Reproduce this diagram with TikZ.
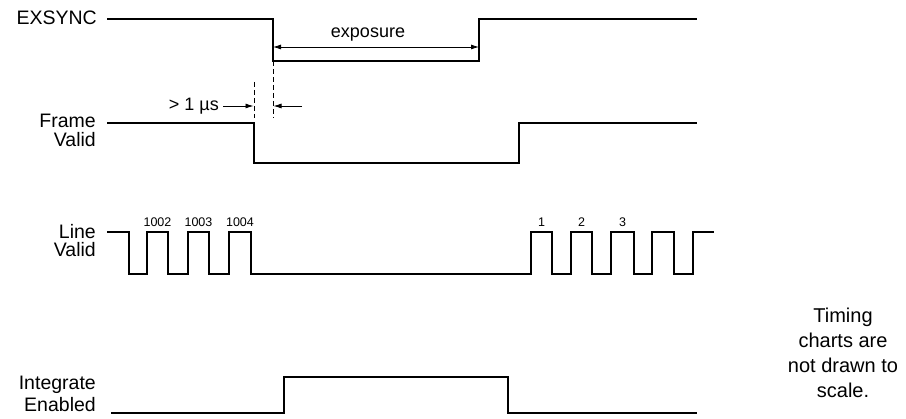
\documentclass[tikz,border=0pt]{standalone}
\usepackage{fontspec}
\setmainfont{Liberation Sans}
\usetikzlibrary{arrows.meta}
\begin{document}
\begin{tikzpicture}[x=1pt,y=-1pt,
  sig/.style={line width=2pt, line join=miter, line cap=butt},
  dimarrow/.style={line width=0.8pt, -{Latex[length=8pt,width=5pt]}},
  dimboth/.style={line width=0.8pt, {Latex[length=8pt,width=5pt]}-{Latex[length=8pt,width=5pt]}},
  guide/.style={line width=0.8pt, dash pattern=on 5pt off 3pt},
  lab/.style={font=\fontsize{19.5}{22}\selectfont, inner sep=0pt, anchor=base east},
  mid/.style={font=\fontsize{18}{20}\selectfont, inner sep=0pt},
  num/.style={font=\fontsize{12.5}{14}\selectfont, inner sep=0pt, anchor=base},
  note/.style={font=\fontsize{20}{24}\selectfont, inner sep=0pt, anchor=base}]
\useasboundingbox (0,0) rectangle (906,419);

% labels
\node[lab] (lexs) at (97,25) {EXSYNC};
\node[lab] (lfr1) at (96,128) {Frame};
\node[lab] (lfr2) at (96,147) {Valid};
\node[lab] (lln1) at (96,239) {Line};
\node[lab] (lln2) at (96,257) {Valid};
\node[lab] (lin1) at (96,390) {Integrate};
\node[lab] (lin2) at (96,411.5) {Enabled};

% EXSYNC
\coordinate (exA) at (273,61);
\draw[sig] (107,19) -| (exA) -| (479,19) -- (697,19);

% exposure
\coordinate (eL) at (273,47);
\coordinate (eR) at (479,47);
\draw[dimboth] (eL) -- (eR);
\node[mid, anchor=base] (lexp) at (368,38) {exposure};

% Frame Valid
\draw[sig] (107,123) -| (254,163) -| (519,123) -- (697,123);

% guides
\coordinate (g1t) at (254,82);
\coordinate (g1b) at (254,118);
\coordinate (g2b) at (273,118);
\draw[guide] (g1t) -- (g1b);
\draw[guide] (exA) -- (g2b);

% > 1 us
\node[mid, anchor=base east] (lus) at (219,110.5) {> 1 µs};
\coordinate (a1s) at (223,106);
\coordinate (a1e) at (253.5,106);
\coordinate (a2s) at (302,106);
\coordinate (a2e) at (273.5,106);
\draw[dimarrow] (a1s) -- (a1e);
\draw[dimarrow] (a2s) -- (a2e);

% Line Valid
\draw[sig] (107,232) -| (129,274) -| (147,232) -| (168,274) -| (188,232) -| (209,274) -| (229,232) -| (251,274)
  -| (531,232) -| (552,274) -| (571,232) -| (592,274) -| (611,232) -| (634,274) -| (652,232) -| (674,274) -| (693,232) -- (714,232);
\node[num] (n1002) at (157.5,227) {1002};
\node[num] (n1003) at (198.5,227) {1003};
\node[num] (n1004) at (240,227) {1004};
\node[num] (n1) at (541.5,227) {1};
\node[num] (n2) at (581.5,227) {2};
\node[num] (n3) at (622.5,227) {3};

% Integrate Enabled
\draw[sig] (111,413) -| (284,377) -| (508,413) -- (697,413);

% note
\node[note] (t1) at (843,323) {Timing};
\node[note] (t2) at (843,348) {charts are};
\node[note] (t3) at (843,373) {not drawn to};
\node[note] (t4) at (843,398) {scale.};
\end{tikzpicture}
\end{document}
